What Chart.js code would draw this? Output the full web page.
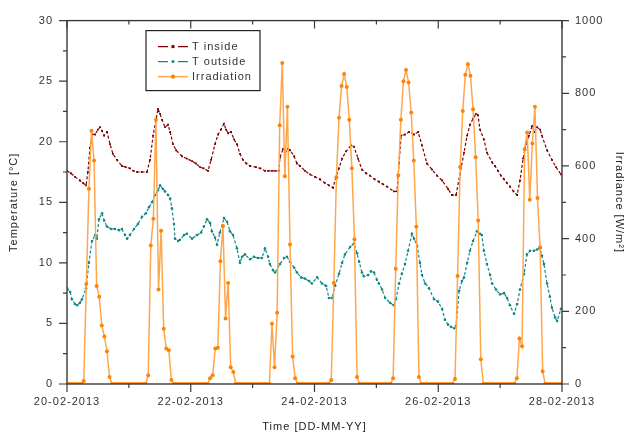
<!DOCTYPE html>
<html><head><meta charset="utf-8">
<script src="https://cdn.jsdelivr.net/npm/chart.js@4.4.1/dist/chart.umd.min.js"></script>
<style>html,body{margin:0;padding:0;background:#fff;}#wrap{width:638px;height:435px;}</style>
</head><body><div id="wrap"><canvas id="c" width="638" height="435"></canvas></div>
<script>
// x values are hours since 20-02-2013 00:00
const xTickHours = [0, 48, 96, 144, 192];
const xTickLabels = ['20-02-2013', '22-02-2013', '24-02-2013', '26-02-2013', '28-02-2013'];
const seriesNames = ['T inside', 'T outside', 'Irradiation'];

const tInsideHours = [0,1.5,3.1,5.0,6.2,7.4,8.1,8.9,9.7,10.9,12.0,12.8,13.6,14.4,15.5,16.7,17.8,19.4,21.3,22.8,24.4,25.8,27.2,29.0,31.0,32.2,33.4,34.5,35.3,36.1,36.9,38.0,39.2,40.0,41.1,42.3,44.6,46.5,48.5,50.0,51.6,53.0,54.7,55.9,57.4,58.6,59.7,60.9,61.7,62.5,63.6,64.8,65.9,67.1,68.3,69.6,71.0,73.3,75.0,76.8,78.0,79.5,81.0,82.2,82.6,83.8,84.9,85.7,86.5,88.1,89.2,90.4,92.3,94.3,96.2,98.1,100.0,101.6,103.2,104.3,105.5,106.7,108.2,110.2,111.3,112.9,114.4,116.0,117.5,119.3,121.0,122.5,124.1,126.8,128.0,128.8,129.6,131.1,132.7,134.6,136.2,137.7,139.6,141.6,143.5,145.5,147.8,149.3,150.9,152.4,154.0,155.2,156.3,157.5,158.6,159.4,160.2,161.7,162.9,164.9,166.0,167.2,168.3,169.5,170.6,171.8,173.2,174.6,175.7,176.9,178.0,179.2,180.4,181.5,182.3,183.5,184.2,186.2,188.1,189.7,191.6];
const tInside = [17.6,17.4,17.1,16.8,16.6,16.4,17.5,19.5,20.6,20.6,21.0,21.2,20.9,20.5,20.8,19.8,19.0,18.5,18.0,17.9,17.8,17.6,17.5,17.5,17.5,18.5,20.5,21.8,22.7,22.3,21.8,21.2,21.4,20.8,19.8,19.3,18.8,18.6,18.4,18.2,17.9,17.8,17.6,18.5,19.8,20.6,21.0,21.5,21.0,20.7,20.8,20.2,19.8,19.0,18.5,18.2,18.0,17.9,17.8,17.6,17.6,17.6,17.6,17.6,18.7,19.4,19.2,19.4,19.3,18.8,18.2,18.0,17.6,17.3,17.1,16.9,16.6,16.4,16.2,17.1,17.8,18.6,19.2,19.7,19.6,18.6,17.7,17.4,17.2,16.9,16.7,16.5,16.3,15.9,15.9,18.2,20.5,20.6,20.8,20.6,20.8,19.7,18.2,17.7,17.2,16.8,16.1,15.6,15.6,17.3,19.1,20.5,21.4,21.9,22.3,22.2,21.0,20.2,19.1,18.3,18.0,17.6,17.2,16.9,16.6,16.3,15.9,15.6,16.8,18.6,19.8,20.5,21.3,20.8,21.2,21.0,20.5,19.3,18.5,17.9,17.3];

const tOutsideHours = [0,1.2,1.9,3.1,3.9,5.0,5.8,7.4,8.5,9.7,10.9,11.6,12.4,13.6,14.4,15.5,17.1,18.6,20.2,21.3,22.5,23.3,24.4,26.0,27.5,29.1,30.6,31.8,33.0,34.1,35.3,36.1,37.2,38.0,39.2,40.0,40.7,41.5,41.9,43.1,43.8,45.4,46.5,48.5,50.4,52.0,53.1,54.3,55.5,56.2,57.4,58.2,59.3,60.9,62.1,63.2,64.4,65.9,67.1,67.9,69.0,71.0,72.5,74.1,75.6,76.8,78.0,78.7,79.9,80.7,82.6,84.2,85.3,86.5,88.1,89.2,90.8,92.3,93.9,95.0,97.0,98.9,100.5,101.6,102.8,104.0,105.5,106.7,107.8,109.8,111.3,112.5,113.3,114.4,115.2,116.8,117.9,119.1,120.2,121.0,122.2,123.4,125.3,126.8,127.6,128.8,129.9,131.1,132.3,133.8,134.6,135.8,136.9,137.7,138.9,140.4,142.4,143.9,145.5,146.6,147.8,149.0,150.2,150.9,152.1,153.2,154.0,155.2,156.3,157.5,159.0,160.2,160.9,161.7,162.9,164.1,164.9,166.4,168.0,169.5,170.7,171.8,173.4,174.6,175.7,177.3,178.4,179.6,181.1,182.3,183.5,184.2,185.0,186.2,187.3,188.1,189.3,190.1,191.6];
const tOutside = [7.9,7.6,7.0,6.6,6.5,6.7,7.0,7.9,10.0,11.8,12.3,12.0,13.6,14.1,13.5,13.0,12.8,12.8,12.7,12.8,12.3,12.0,12.3,12.8,13.2,13.8,14.1,14.6,15.0,15.6,16.0,16.4,16.1,15.9,15.6,15.3,14.5,13.2,12.0,11.8,11.9,12.3,12.4,12.0,12.3,12.5,13.0,13.6,13.3,12.6,12.1,11.5,12.5,13.7,13.4,12.6,12.3,11.2,10.0,10.5,10.7,10.3,10.5,10.4,10.4,11.2,10.5,9.9,9.4,9.2,9.9,10.4,10.5,10.1,9.6,9.2,8.8,8.7,8.5,8.3,8.8,8.3,8.1,7.1,7.1,8.1,9.1,10.0,10.7,11.3,11.6,10.8,10.1,9.2,8.9,9.0,9.3,9.2,8.6,8.3,7.8,7.1,6.7,6.5,7.0,8.3,9.1,9.9,11.0,12.4,12.0,11.4,10.0,9.0,8.3,7.9,7.0,6.8,6.2,5.3,4.9,4.7,4.6,4.8,7.7,8.5,8.8,10.0,11.0,11.8,12.6,12.4,12.3,11.0,9.9,9.0,8.3,7.8,7.4,7.5,7.1,6.5,5.8,6.6,7.8,9.1,10.7,11.0,11.0,11.1,11.2,10.6,9.9,8.3,7.2,6.3,5.5,5.2,6.2];

// hourly irradiance (W/m2), first value centred at 00:30 on 20-02-2013
const irrStartHour = 0.5;
const irradiance = [
  0,0,0,0,0,0,8,275,537,697,615,270,240,161,131,90,19,0,0,0,0,0,0,0,
  0,0,0,0,0,0,0,24,381,455,727,260,422,152,98,93,11,0,0,0,0,0,0,0,
  0,0,0,0,0,0,0,16,24,98,100,338,435,180,278,46,33,0,0,0,0,0,0,0,
  0,0,0,0,0,0,0,166,46,196,712,883,572,763,384,76,16,0,0,0,0,0,0,0,
  0,0,0,0,0,0,11,278,569,733,820,853,817,727,594,398,19,0,0,0,0,0,0,0,
  0,0,0,0,0,0,16,317,574,727,833,864,830,747,615,433,19,0,0,0,0,0,0,0,
  0,0,0,0,0,0,14,297,597,751,851,880,848,756,624,450,68,0,0,0,0,0,0,0,
  0,0,0,0,0,0,16,125,104,646,692,507,662,763,512,376,35,0,0,0,0,0,0,0
];

const toPts = (xs, ys) => xs.map((x, i) => ({x: x, y: ys[i]}));
const irrPts = irradiance.map((v, i) => ({x: irrStartHour + i, y: v}));

const FONT = 'Arial, "Liberation Sans", sans-serif';
const AXIS = '#3a3a3a';

const framePlugin = {
  id: 'frame',
  beforeDraw(chart) { chart.ctx.letterSpacing = '1px'; },
  afterDraw(chart) {
    const {ctx, chartArea: ca, scales} = chart;
    ctx.save();
    ctx.letterSpacing = '0px';
    ctx.strokeStyle = AXIS; ctx.lineWidth = 1.4;
    ctx.strokeRect(ca.left, ca.top, ca.right - ca.left, ca.bottom - ca.top);
    ctx.lineWidth = 1.2;
    ctx.beginPath();
    scales.x.ticks.forEach(t => {
      const px = scales.x.getPixelForValue(t.value);
      const L = xTickHours.includes(t.value) ? 8 : 4;
      ctx.moveTo(px, ca.bottom); ctx.lineTo(px, ca.bottom + L);
      ctx.moveTo(px, ca.top); ctx.lineTo(px, ca.top + L);
    });
    scales.y.ticks.forEach(t => {
      const py = scales.y.getPixelForValue(t.value);
      const L = t.value % 5 === 0 ? 8 : 4;
      ctx.moveTo(ca.left, py); ctx.lineTo(ca.left - L, py);
    });
    scales.yR.ticks.forEach(t => {
      const py = scales.yR.getPixelForValue(t.value);
      const L = t.value % 200 === 0 ? 7 : 4;
      ctx.moveTo(ca.right, py); ctx.lineTo(ca.right + L, py);
    });
    ctx.stroke();

    // legend box
    const bx = ca.left + 79, by = ca.top + 10, bw = 114, bh = 60;
    ctx.fillStyle = '#fff';
    ctx.fillRect(bx, by, bw, bh);
    ctx.strokeStyle = '#222'; ctx.lineWidth = 1.2;
    ctx.strokeRect(bx, by, bw, bh);
    const ds = chart.data.datasets;
    ctx.font = '11px ' + FONT;
    ctx.letterSpacing = '1px';
    ctx.textBaseline = 'middle';
    for (let i = 0; i < 3; i++) {
      const d = ds[i];
      const ry = by + 16 + i * 15;
      const x0 = bx + 12, x1 = bx + 42, xm = (x0 + x1) / 2;
      ctx.strokeStyle = d.borderColor; ctx.lineWidth = d.borderWidth;
      ctx.beginPath();
      if (d.borderDash && d.borderDash.length) {
        ctx.moveTo(x0, ry); ctx.lineTo(xm - 5, ry);
        ctx.moveTo(xm + 5, ry); ctx.lineTo(x1, ry);
      } else { ctx.moveTo(x0, ry); ctx.lineTo(x1, ry); }
      ctx.stroke();
      ctx.fillStyle = d.pointBackgroundColor;
      if (d.pointStyle === 'rect') ctx.fillRect(xm - 1.5, ry - 1.5, 3, 3);
      else { ctx.beginPath(); ctx.arc(xm, ry, d.pointRadius + 0.2, 0, Math.PI * 2); ctx.fill(); }
      ctx.fillStyle = '#333';
      ctx.fillText(d.label, bx + 46, ry);
    }
    ctx.restore();
  }
};

new Chart(document.getElementById('c'), {
  type: 'line',
  data: {
    datasets: [
      {label: seriesNames[0], data: toPts(tInsideHours, tInside), yAxisID: 'y', order: 2,
       borderColor: '#800000', borderWidth: 1.2, borderDash: [3, 2],
       pointStyle: 'rect', pointRadius: 1.3, pointBackgroundColor: '#800000', pointBorderWidth: 0},
      {label: seriesNames[1], data: toPts(tOutsideHours, tOutside), yAxisID: 'y', order: 1,
       borderColor: '#108888', borderWidth: 1.2, borderDash: [3, 2],
       pointStyle: 'circle', pointRadius: 1.3, pointBackgroundColor: '#108888', pointBorderWidth: 0},
      {label: seriesNames[2], data: irrPts, yAxisID: 'yR', order: 0,
       borderColor: '#FFA64D', borderWidth: 1.5,
       pointStyle: 'circle', pointRadius: 2.0, pointBackgroundColor: '#FF8405', pointBorderWidth: 0}
    ]
  },
  options: {
    responsive: false, animation: false, devicePixelRatio: 1,
    layout: {padding: {top: 17, left: 0, right: 0, bottom: 0}},
    plugins: {legend: {display: false}, tooltip: {enabled: false}},
    elements: {line: {tension: 0}},
    scales: {
      x: {
        type: 'linear', position: 'bottom', min: 0, max: 192,
        grid: {display: false, drawTicks: false}, border: {display: false},
        ticks: {stepSize: 24, autoSkip: false, maxRotation: 0, padding: 11, color: '#333',
          font: {family: FONT, size: 11},
          callback: v => { const i = xTickHours.indexOf(v); return i >= 0 ? xTickLabels[i] : ''; }},
        title: {display: true, text: 'Time [DD-MM-YY]', color: '#222', font: {family: FONT, size: 11},
          padding: {top: 0, bottom: 1}},
        afterFit: s => { s.height = 51; }
      },
      y: {
        position: 'left', min: 0, max: 30,
        grid: {display: false, drawTicks: false}, border: {display: false},
        ticks: {stepSize: 2.5, autoSkip: false, padding: 14, color: '#333', font: {family: FONT, size: 11},
          callback: v => (v % 5 === 0 ? String(v) : '')},
        title: {display: true, text: 'Temperature [°C]', color: '#222', font: {family: FONT, size: 11},
          padding: {top: 7, bottom: 0}},
        afterFit: s => { s.width = 67; }
      },
      yR: {
        position: 'right', min: 0, max: 1000,
        grid: {display: false, drawTicks: false}, border: {display: false},
        ticks: {stepSize: 100, autoSkip: false, padding: 13, color: '#333', font: {family: FONT, size: 11},
          callback: v => (v % 200 === 0 ? String(v) : '')},
        title: {display: true, text: 'Irradiance [W/m²]', color: '#222', font: {family: FONT, size: 11},
          padding: {top: 12, bottom: 0}},
        afterFit: s => { s.width = 76; }
      }
    }
  },
  plugins: [framePlugin]
});
</script></body></html>
